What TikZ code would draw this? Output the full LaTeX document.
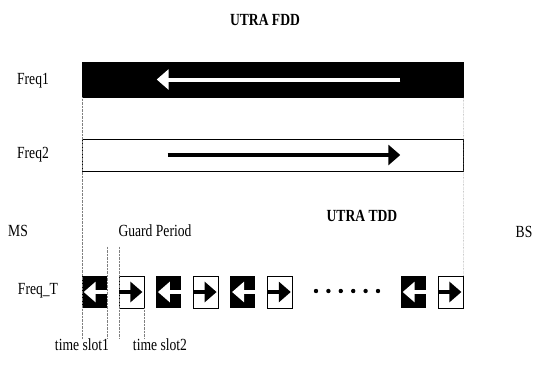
\documentclass[tikz,border=0pt]{standalone}
\usepackage{fontspec}
\setmainfont{Liberation Serif}[FakeStretch=0.8]
\usetikzlibrary{positioning}
\usetikzlibrary{arrows.meta}

\begin{document}
\begin{tikzpicture}[
            x = 1pt, y = -1pt, % picture units are pixels, y downwards
            > = {Triangle[length=12pt,width=20pt]}, % arrow head style
            every node/.style = {font=\fontsize{17}{19}\selectfont},
            node distance = 11.5pt, % gap between time slots
            semithick % line style
        ]

        \tikzstyle{band}=[
            draw,
            inner sep = 0pt,
            minimum width = 381pt
        ]
        \tikzstyle{slotdown}=[fill = black, inner sep = 0pt, minimum width = 25pt, minimum height = 32pt]
        \tikzstyle{slotup}=[draw, fill = white, inner sep = 0pt, minimum width = 25pt, minimum height = 32pt]
        \tikzstyle{guide}=[densely dotted, gray, thin]
        \tikzstyle{flow}=[->, line width = 4pt]

        \useasboundingbox (0,0) rectangle (536,365);

        % FDD level
        \node[font=\bfseries\fontsize{17}{19}\selectfont] (fdd) at (265,20) {UTRA FDD};
        \node (L1) at (33,81) {Freq1};
        \node[band, fill = black, minimum height = 35pt] (F1) at (272.5,79.5) {};
        \node (L2) at (33,155) {Freq2};
        \node[band, fill = white, minimum height = 32pt] (F2) at (272.5,155) {};

        \path[flow, white] ([xshift=-63pt]F1.east) edge ([xshift=75pt]F1.west);
        \path[flow] ([xshift=86pt]F2.west) edge ([xshift=-63pt]F2.east);

        % TDD level
        \node (ms) at (18,231) {MS};
        \node (gp) at (155,231) {Guard Period};
        \node[font=\bfseries\fontsize{17}{19}\selectfont] (tdd) at (362,216) {UTRA TDD};
        \node (bs) at (524,232) {BS};
        \node (LT) at (38,291) {Freq\_T};

        % time slots
        \node[slotdown] (S1) at (94.5,292) {};
        \node[slotup] (S2) [right=of S1] {};
        \node[slotdown] (S3) [right=of S2] {};
        \node[slotup] (S4) [right=of S3] {};
        \node[slotdown] (S5) [right=of S4] {};
        \node[slotup] (S6) [right=of S5] {};
        \node[slotdown] (S7) at (413.5,292) {};
        \node[slotup] (S8) [right=of S7] {};

        \foreach \i in {0,...,5}
            \fill (316+12.4*\i,291) circle (2.2pt);

        % dotted guides
        \draw[guide] (F1.south west) -- ([yshift=-30pt]S1.south west);
        \draw[guide] (F1.south east) -- (S8.north east);
        \draw[guide] ([yshift=29pt]S1.north east) -- ([yshift=-30pt]S1.south east);
        \draw[guide] ([yshift=29pt]S2.north west) -- ([yshift=-30pt]S2.south west);
        \draw[guide] (S2.south east) -- ([yshift=-30pt]S2.south east);

        \foreach \s in {S1,S3,S5,S7}
            \draw[flow, white] (\s.east) -- ([xshift=2pt]\s.west);
        \foreach \s in {S2,S4,S6,S8}
            \draw[flow] (\s.west) -- ([xshift=-2pt]\s.east);

        \node (ts1) at (82,345) {time slot1};
        \node (ts2) at (160,345) {time slot2};

  \end{tikzpicture}
\end{document}
